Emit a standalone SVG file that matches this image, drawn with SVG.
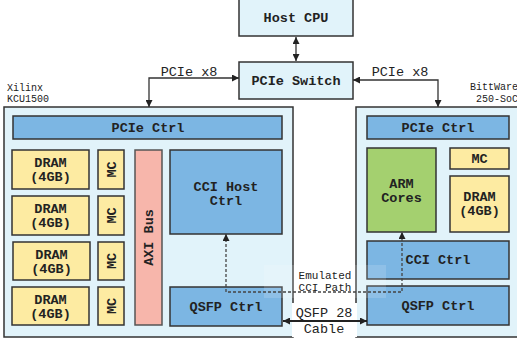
<svg xmlns="http://www.w3.org/2000/svg" width="517" height="343" viewBox="0 0 517 343">
  <defs>
    <marker id="ah" viewBox="0 0 10 10" refX="10" refY="5" markerWidth="9" markerHeight="7" markerUnits="userSpaceOnUse" orient="auto-start-reverse">
      <path d="M0,0 L10,5 L0,10 z" fill="#222"/>
    </marker>
    <style>
      .board { fill: #e1f3fa; stroke: #333; stroke-width: 1.5; }
      .lb { fill: #e1f3fa; stroke: #333; stroke-width: 1.5; }
      .blue { fill: #7cb6e3; stroke: #333; stroke-width: 1.5; }
      .yel { fill: #fdeba2; stroke: #333; stroke-width: 1.5; }
      .pink { fill: #f7b6ab; stroke: #555; stroke-width: 1.5; }
      .green { fill: #a4d06f; stroke: #333; stroke-width: 1.5; }
      .t { font-family: "Liberation Mono", "DejaVu Sans Mono", monospace; font-weight: bold; font-size: 13.5px; fill: #222; text-anchor: middle; }
      .n { font-family: "Liberation Mono", "DejaVu Sans Mono", monospace; font-size: 13.5px; fill: #222; text-anchor: middle; }
      .s { font-family: "Liberation Mono", "DejaVu Sans Mono", monospace; font-size: 10px; fill: #222; }
      .e { font-family: "Liberation Mono", "DejaVu Sans Mono", monospace; font-size: 11px; fill: #222; text-anchor: middle; }
      .wire { fill: none; stroke: #333; stroke-width: 1.3; }
      .dash { fill: none; stroke: #444; stroke-width: 1.3; stroke-dasharray: 3 2; }
    </style>
  </defs>

  <!-- boards -->
  <g id="xilinx-board">
    <rect class="board" x="4" y="107" width="289" height="230"/>
    <text class="s" x="7" y="91">Xilinx</text>
    <text class="s" x="7" y="102">KCU1500</text>
  </g>
  <g id="bittware-board">
    <rect class="board" x="356" y="107" width="170" height="230"/>
    <text class="s" x="470" y="90">BittWare</text>
    <text class="s" x="476" y="102">250-SoC</text>
  </g>

  <!-- host side -->
  <g id="host-cpu">
    <rect class="lb" x="239" y="-2" width="114" height="38"/>
    <text class="t" x="296" y="22">Host CPU</text>
  </g>
  <g id="pcie-switch">
    <rect class="lb" x="239" y="62" width="114" height="37"/>
    <text class="t" x="296" y="85">PCIe Switch</text>
  </g>

  <!-- Xilinx KCU1500 blocks -->
  <g id="x-pcie-ctrl">
    <rect class="blue" x="13" y="116" width="269" height="23"/>
    <text class="t" x="148" y="132">PCIe Ctrl</text>
  </g>
  <g id="x-dram1">
    <rect class="yel" x="12" y="150" width="77" height="39"/>
    <text class="t" x="50.5" y="167">DRAM</text>
    <text class="t" x="50.5" y="181">(4GB)</text>
  </g>
  <g id="x-dram2">
    <rect class="yel" x="12" y="196" width="77" height="39"/>
    <text class="t" x="50.5" y="213">DRAM</text>
    <text class="t" x="50.5" y="227">(4GB)</text>
  </g>
  <g id="x-dram3">
    <rect class="yel" x="13" y="242" width="77" height="38"/>
    <text class="t" x="51.5" y="259">DRAM</text>
    <text class="t" x="51.5" y="273">(4GB)</text>
  </g>
  <g id="x-dram4">
    <rect class="yel" x="12" y="287" width="77" height="38"/>
    <text class="t" x="50.5" y="304">DRAM</text>
    <text class="t" x="50.5" y="318">(4GB)</text>
  </g>
  <g id="x-mc1">
    <rect class="yel" x="98" y="150" width="26" height="39"/>
    <text class="t" transform="translate(115.5,169.5) rotate(-90)">MC</text>
  </g>
  <g id="x-mc2">
    <rect class="yel" x="98" y="196" width="26" height="39"/>
    <text class="t" transform="translate(115.5,215.5) rotate(-90)">MC</text>
  </g>
  <g id="x-mc3">
    <rect class="yel" x="98" y="242" width="26" height="38"/>
    <text class="t" transform="translate(115.5,261) rotate(-90)">MC</text>
  </g>
  <g id="x-mc4">
    <rect class="yel" x="98" y="287" width="26" height="38"/>
    <text class="t" transform="translate(115.5,306) rotate(-90)">MC</text>
  </g>
  <g id="axi-bus">
    <rect class="pink" x="135" y="150" width="27" height="175"/>
    <text class="t" transform="translate(153,237.5) rotate(-90)">AXI Bus</text>
  </g>
  <g id="cci-host-ctrl">
    <rect class="blue" x="170" y="150" width="112" height="84"/>
    <text class="t" x="226" y="191">CCI Host</text>
    <text class="t" x="226" y="205">Ctrl</text>
  </g>
  <g id="x-qsfp-ctrl">
    <rect class="blue" x="170" y="287" width="112" height="39"/>
    <text class="t" x="226" y="311">QSFP Ctrl</text>
  </g>

  <!-- BittWare 250-SoC blocks -->
  <g id="b-pcie-ctrl">
    <rect class="blue" x="367" y="116" width="142" height="23"/>
    <text class="t" x="438" y="132">PCIe Ctrl</text>
  </g>
  <g id="arm-cores">
    <rect class="green" x="367" y="148" width="69" height="84"/>
    <text class="t" x="401.5" y="188">ARM</text>
    <text class="t" x="401.5" y="202">Cores</text>
  </g>
  <g id="b-mc">
    <rect class="yel" x="450" y="148" width="59" height="21"/>
    <text class="t" x="479.5" y="163">MC</text>
  </g>
  <g id="b-dram">
    <rect class="yel" x="450" y="176" width="59" height="56"/>
    <text class="t" x="479.5" y="201">DRAM</text>
    <text class="t" x="479.5" y="215">(4GB)</text>
  </g>
  <g id="cci-ctrl">
    <rect class="blue" x="367" y="241" width="142" height="38"/>
    <text class="t" x="438" y="264">CCI Ctrl</text>
  </g>
  <g id="b-qsfp-ctrl">
    <rect class="blue" x="367" y="286" width="142" height="39"/>
    <text class="t" x="438" y="310">QSFP Ctrl</text>
  </g>

  <!-- label backgrounds between the boards -->
  <rect x="264" y="265" width="122" height="33" fill="#ffffff" fill-opacity="0.15"/>
  <rect x="292" y="303" width="65" height="34" fill="#ffffff"/>

  <!-- connectors -->
  <g id="connectors">
    <line class="wire" x1="296" y1="37" x2="296" y2="61" marker-start="url(#ah)" marker-end="url(#ah)"/>
    <polyline class="wire" points="149,107 149,78 239,78" marker-start="url(#ah)" marker-end="url(#ah)"/>
    <polyline class="wire" points="353,80 438,80 438,107" marker-start="url(#ah)" marker-end="url(#ah)"/>
    <polyline class="dash" points="226,234 226,292 402,292 402,232" marker-start="url(#ah)" marker-end="url(#ah)"/>
    <line x1="283" y1="321" x2="367" y2="321" stroke="#222" stroke-width="2" marker-start="url(#ah)" marker-end="url(#ah)"/>
  </g>

  <!-- connector labels -->
  <g id="labels">
    <text class="n" x="189" y="76">PCIe x8</text>
    <text class="n" x="400" y="76">PCIe x8</text>
    <text class="e" x="325" y="279">Emulated</text>
    <text class="e" x="325" y="291">CCI Path</text>
    <text class="n" x="324" y="317">QSFP 28</text>
    <text class="n" x="324" y="333">Cable</text>
  </g>
</svg>
